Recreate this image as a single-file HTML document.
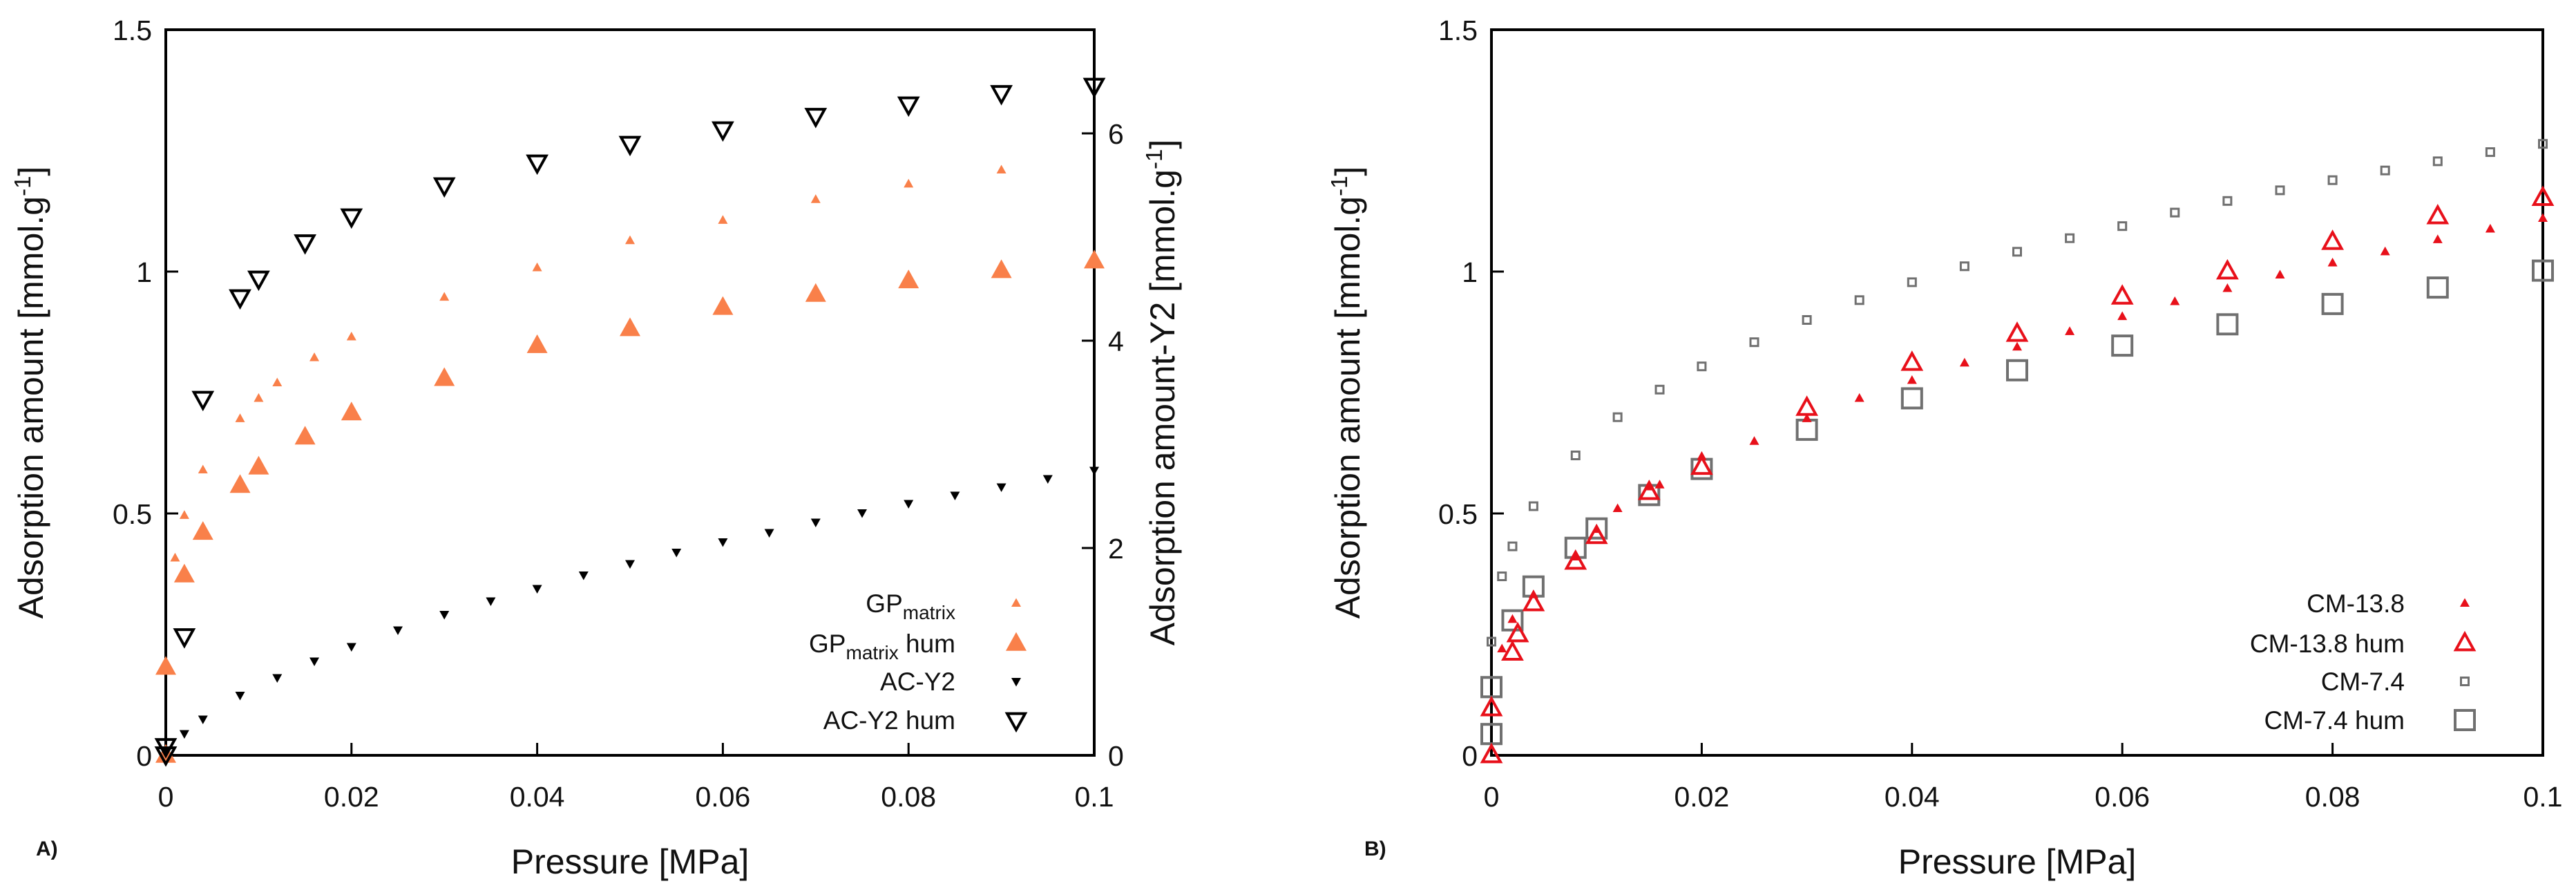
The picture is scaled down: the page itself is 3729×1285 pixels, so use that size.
<!DOCTYPE html>
<html><head><meta charset="utf-8"><style>
html,body{margin:0;padding:0;background:#fff;}
svg{display:block;font-family:"Liberation Sans",sans-serif;}
</style></head><body>
<svg id="fig" width="3729" height="1285" viewBox="0 0 3729 1285"></svg>
<script>
// ---- Panel A data ----
const gpX=[0,0.001,0.002,0.004,0.008,0.010,0.012,0.016,0.02,0.03,0.04,0.05,0.06,0.07,0.08,0.09];
const gpY=[0,0.408,0.496,0.59,0.696,0.738,0.77,0.822,0.865,0.947,1.008,1.064,1.106,1.149,1.181,1.21];
const gpHumX=[0,0,0.002,0.004,0.008,0.010,0.015,0.02,0.03,0.04,0.05,0.06,0.07,0.08,0.09,0.1];
const gpHumY=[0,0.182,0.373,0.461,0.558,0.596,0.658,0.708,0.779,0.847,0.882,0.926,0.953,0.981,1.002,1.022];
const acX=[0,0.002,0.004,0.008,0.012,0.016,0.02,0.025,0.03,0.035,0.04,0.045,0.05,0.055,0.06,0.065,0.07,0.075,0.08,0.085,0.09,0.095,0.1];
const acY=[0.04,0.21,0.35,0.58,0.75,0.91,1.05,1.21,1.36,1.49,1.61,1.74,1.85,1.96,2.06,2.15,2.25,2.34,2.43,2.51,2.59,2.67,2.75];
const acHumX=[0,0,0.002,0.004,0.008,0.010,0.015,0.02,0.03,0.04,0.05,0.06,0.07,0.08,0.09,0.1];
const acHumY=[0.01,0.09,1.15,3.44,4.42,4.6,4.95,5.2,5.5,5.72,5.9,6.04,6.17,6.28,6.39,6.46];
// ---- Panel B data ----
const cmX=[0.001,0.002,0.004,0.008,0.010,0.012,0.015,0.016,0.02,0.025,0.03,0.035,0.04,0.045,0.05,0.055,0.06,0.065,0.07,0.075,0.08,0.085,0.09,0.095,0.1];
const cmY=[0.22,0.281,0.332,0.41,0.467,0.51,0.555,0.559,0.618,0.649,0.696,0.738,0.775,0.811,0.844,0.876,0.907,0.938,0.965,0.993,1.018,1.041,1.066,1.088,1.11];
const cmHumX=[0,0,0.002,0.0025,0.004,0.008,0.01,0.015,0.02,0.03,0.04,0.05,0.06,0.07,0.08,0.09,0.1];
const cmHumY=[0,0.097,0.212,0.25,0.314,0.4,0.453,0.544,0.596,0.718,0.811,0.871,0.948,1.0,1.061,1.114,1.152];
const c74X=[0,0.001,0.002,0.004,0.008,0.012,0.016,0.02,0.025,0.03,0.035,0.04,0.045,0.05,0.055,0.06,0.065,0.07,0.075,0.08,0.085,0.09,0.095,0.1];
const c74Y=[0.235,0.37,0.432,0.515,0.62,0.699,0.756,0.804,0.854,0.9,0.941,0.978,1.011,1.041,1.069,1.094,1.122,1.146,1.168,1.189,1.209,1.228,1.247,1.264];
const c74HumX=[0,0,0.002,0.004,0.008,0.010,0.015,0.02,0.03,0.04,0.05,0.06,0.07,0.08,0.09,0.1];
const c74HumY=[0.044,0.141,0.279,0.349,0.429,0.469,0.538,0.592,0.673,0.738,0.796,0.847,0.891,0.933,0.967,1.002];
const xTicks=[0,0.02,0.04,0.06,0.08,0.1];
const xTickLabels=["0","0.02","0.04","0.06","0.08","0.1"];
const yTicks=[0,0.5,1,1.5];
const yTickLabels=["0","0.5","1","1.5"];
const y2Ticks=[0,2,4,6];
const y2TickLabels=["0","2","4","6"];

const NS="http://www.w3.org/2000/svg";
const svg=document.getElementById('fig');
function el(tag,attrs,parent,text){const e=document.createElementNS(NS,tag);for(const k in attrs)e.setAttribute(k,attrs[k]);if(text!==undefined)e.textContent=text;(parent||svg).appendChild(e);return e;}
const ORANGE="#f9804a",RED="#e8101a",GRAY="#707070";

function marker(g,kind,cx,cy,s,color){
  let e;
  if(kind==='up'||kind==='upOpen'){
    const h=s*0.9;
    e=el('polygon',{points:`${cx},${cy-h*0.6} ${cx-s/2},${cy+h*0.4} ${cx+s/2},${cy+h*0.4}`,fill:kind==='up'?color:'none',stroke:color,'stroke-width':kind==='up'?0:4},g);
  } else if(kind==='down'||kind==='downOpen'){
    const h=s*0.9;
    e=el('polygon',{points:`${cx},${cy+h*0.6} ${cx-s/2},${cy-h*0.4} ${cx+s/2},${cy-h*0.4}`,fill:kind==='down'?color:'none',stroke:color,'stroke-width':kind==='down'?0:4},g);
  } else {
    e=el('rect',{x:cx-s/2,y:cy-s/2,width:s,height:s,fill:'none',stroke:color,'stroke-width':s>20?4:3},g);
  }
  return e;
}

function panel(opt){
  const {x0,x1,y0,y1,name}=opt;
  const g=el('g',{});
  
  
  const sx=v=>x0+(v-0)/0.1*(x1-x0);
  const sy=v=>y1-v/1.5*(y1-y0);
  const frame=el('rect',{x:x0,y:y0,width:x1-x0,height:y1-y0,fill:'none',stroke:'#000','stroke-width':4},g);
  
  xTicks.forEach((t,i)=>{
    el('line',{x1:sx(t),x2:sx(t),y1:y1,y2:y1-18,stroke:'#000','stroke-width':3},g);
    const tl=el('text',{x:sx(t),y:y1+74,'font-size':41,'text-anchor':'middle',fill:'#111'},g,xTickLabels[i]);
    
  });
  yTicks.forEach((t,i)=>{
    el('line',{x1:x0,x2:x0+18,y1:sy(t),y2:sy(t),stroke:'#000','stroke-width':3},g);
    const tl=el('text',{x:x0-20,y:sy(t)+15,'font-size':41,'text-anchor':'end',fill:'#111'},g,yTickLabels[i]);
    
  });
  const xt=el('text',{x:(x0+x1)/2,y:1264,'font-size':50,'text-anchor':'middle',fill:'#111'},g,'Pressure [MPa]');
  
  const yt=el('text',{transform:`translate(${opt.ytx},${(y0+y1)/2}) rotate(-90)`,'font-size':50,'text-anchor':'middle',fill:'#111'},g);
  
  el('tspan',{},yt,'Adsorption amount [mmol.g');
  el('tspan',{dy:-18,'font-size':33},yt,'-1');
  el('tspan',{dy:18},yt,']');
  const lab=el('text',{x:opt.labx,y:1238,'font-size':30,'font-weight':'bold',fill:'#111'},g,opt.label);
  
  return {g,sx,sy};
}

// Panel A
const A=panel({x0:240,x1:1584,y0:43,y1:1093,name:'panel-a',ytx:62,labx:52,label:'A)'});
const sy2=v=>1093-v/7*(1093-43);
y2Ticks.forEach((t,i)=>{
  el('line',{x1:1584,x2:1566,y1:sy2(t),y2:sy2(t),stroke:'#000','stroke-width':3},A.g);
  const tl=el('text',{x:1604,y:sy2(t)+15,'font-size':41,fill:'#111'},A.g,y2TickLabels[i]);
  
});
const y2t=el('text',{transform:`translate(1700,568) rotate(-90)`,'font-size':50,'text-anchor':'middle',fill:'#111'},A.g);

el('tspan',{},y2t,'Adsorption amount-Y2 [mmol.g');
el('tspan',{dy:-18,'font-size':33},y2t,'-1');
el('tspan',{dy:18},y2t,']');

function series(P,xs,ys,kind,size,color,name,ysc){
  const g=el('g',{},P.g);
  
  xs.forEach((x,i)=>{const m=marker(g,kind,P.sx(x),(ysc||P.sy)(ys[i]),size,color);
    });
}
series(A,gpX,gpY,'up',14,ORANGE,'gp-matrix-series');
series(A,gpHumX,gpHumY,'up',30,ORANGE,'gp-matrix-hum-series');
series(A,acX,acY,'down',14,'#000','ac-y2-series',sy2);
series(A,acHumX,acHumY,'downOpen',26,'#000','ac-y2-hum-series',sy2);

function legend(P,tx,mx,rows){
  const ys=[873,931,986,1042];
  rows.forEach((r,i)=>{
    const g=el('g',{},P.g);
    
    const t=el('text',{x:tx,y:ys[i]+13,'font-size':37,'text-anchor':'end',fill:'#111'},g);
    if(r.sub!==undefined){el('tspan',{},t,'GP');el('tspan',{dy:10,'font-size':28},t,'matrix');el('tspan',{dy:-10},t,r.sub===''?'\u200B':r.sub);}
    else t.textContent=r.t;
    marker(g,r.k,mx,ys[i],r.s,r.c);
  });
}
legend(A,1383,1471,[
  {sub:'',k:'up',s:14,c:ORANGE},
  {sub:' hum',k:'up',s:30,c:ORANGE},
  {t:'AC-Y2',k:'down',s:14,c:'#000'},
  {t:'AC-Y2 hum',k:'downOpen',s:26,c:'#000'}]);

// Panel B
const B=panel({x0:2159,x1:3681,y0:43,y1:1093,name:'panel-b',ytx:1968,labx:1975,label:'B)'});
series(B,c74X,c74Y,'sq',11,GRAY,'cm-7.4-series');
series(B,c74HumX,c74HumY,'sq',28,GRAY,'cm-7.4-hum-series');
series(B,cmX,cmY,'up',14,RED,'cm-13.8-series');
series(B,cmHumX,cmHumY,'upOpen',26,RED,'cm-13.8-hum-series');
legend(B,3481,3568,[
  {t:'CM-13.8',k:'up',s:14,c:RED},
  {t:'CM-13.8 hum',k:'upOpen',s:26,c:RED},
  {t:'CM-7.4',k:'sq',s:11,c:GRAY},
  {t:'CM-7.4 hum',k:'sq',s:28,c:GRAY}]);
</script>
</body></html>
